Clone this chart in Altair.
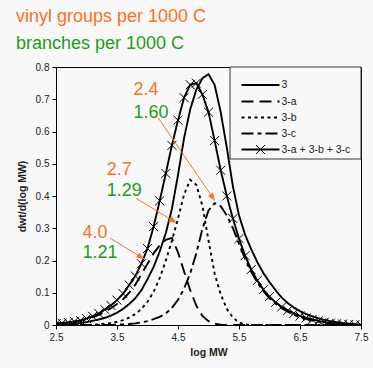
import math
import altair as alt
import pandas as pd

# ---------------- data ----------------
log_mw = [2.5, 2.6, 2.7, 2.8, 2.9, 3.0, 3.1, 3.2, 3.3, 3.4,
          3.5, 3.6, 3.7, 3.8, 3.9, 4.0, 4.1, 4.2, 4.3, 4.4,
          4.5, 4.6, 4.7, 4.8, 4.9, 5.0, 5.1, 5.2, 5.3, 5.4,
          5.5, 5.6, 5.7, 5.8, 5.9, 6.0, 6.1, 6.2, 6.3, 6.4,
          6.5, 6.6, 6.7, 6.8, 6.9, 7.0, 7.1, 7.2, 7.3, 7.4, 7.5]

curve_3 = [0.000, 0.001, 0.002, 0.004, 0.006, 0.009, 0.013, 0.017, 0.022, 0.029,
           0.038, 0.050, 0.065, 0.083, 0.108, 0.142, 0.180, 0.228, 0.285, 0.360,
           0.465, 0.580, 0.668, 0.730, 0.765, 0.778, 0.745, 0.660, 0.550, 0.430,
           0.340, 0.280, 0.235, 0.195, 0.161, 0.133, 0.108, 0.085, 0.068, 0.054,
           0.043, 0.034, 0.027, 0.021, 0.016, 0.012, 0.009, 0.006, 0.004, 0.002, 0.001]

curve_3a = [0.004, 0.006, 0.008, 0.010, 0.013, 0.018, 0.024, 0.031, 0.041, 0.052,
            0.065, 0.080, 0.100, 0.125, 0.157, 0.190, 0.222, 0.247, 0.264, 0.270,
            0.225, 0.166, 0.108, 0.060, 0.028, 0.012, 0.004, 0.001, 0.000, 0.000,
            0.000, 0.000, 0.000, 0.000, 0.000, 0.000, 0.000, 0.000, 0.000, 0.000,
            0.000, 0.000, 0.000, 0.000, 0.000, 0.000, 0.000, 0.000, 0.000, 0.000, 0.000]

curve_3b = [0.000, 0.000, 0.000, 0.000, 0.000, 0.000, 0.001, 0.002, 0.004, 0.006,
            0.010, 0.015, 0.023, 0.034, 0.050, 0.072, 0.103, 0.145, 0.200, 0.262,
            0.330, 0.405, 0.450, 0.435, 0.370, 0.262, 0.160, 0.095, 0.050, 0.023,
            0.008, 0.002, 0.000, 0.000, 0.000, 0.000, 0.000, 0.000, 0.000, 0.000,
            0.000, 0.000, 0.000, 0.000, 0.000, 0.000, 0.000, 0.000, 0.000, 0.000, 0.000]

curve_3c = [0.000, 0.000, 0.000, 0.000, 0.000, 0.000, 0.000, 0.000, 0.000, 0.000,
            0.001, 0.002, 0.003, 0.005, 0.008, 0.012, 0.018, 0.025, 0.036, 0.053,
            0.078, 0.113, 0.160, 0.222, 0.298, 0.355, 0.378, 0.368, 0.340, 0.300,
            0.252, 0.205, 0.165, 0.132, 0.105, 0.083, 0.066, 0.052, 0.041, 0.032,
            0.025, 0.019, 0.014, 0.010, 0.007, 0.005, 0.003, 0.002, 0.001, 0.000, 0.000]

curve_sum = [0.004, 0.006, 0.008, 0.011, 0.014, 0.020, 0.027, 0.036, 0.048, 0.061,
             0.077, 0.097, 0.124, 0.152, 0.190, 0.237, 0.305, 0.385, 0.470, 0.557,
             0.635, 0.705, 0.745, 0.750, 0.715, 0.660, 0.572, 0.480, 0.400, 0.330,
             0.268, 0.215, 0.172, 0.138, 0.110, 0.088, 0.070, 0.056, 0.045, 0.036,
             0.028, 0.022, 0.017, 0.013, 0.009, 0.006, 0.004, 0.003, 0.002, 0.001, 0.000]

series_names = ["3", "3-a", "3-b", "3-c", "3-a + 3-b + 3-c"]
title_lines = ["vinyl groups per 1000 C", "branches per 1000 C"]

vinyl_labels = ["2.4", "2.7", "4.0"]
branch_labels = ["1.60", "1.29", "1.21"]
label_x = [3.77, 3.33, 2.935]
vinyl_y = [0.714, 0.466, 0.270]
branch_y = [0.643, 0.401, 0.208]
arrow_x = [4.177, 3.811, 3.390]
arrow_y = [0.642, 0.393, 0.269]
arrow_x2 = [5.107, 4.479, 3.950]
arrow_y2 = [0.385, 0.316, 0.204]

# ---------------- styling ----------------
W, H = 305, 258
XMIN, XMAX, YMIN, YMAX = 2.5, 7.5, 0.0, 0.8
ORANGE = "#FF7020"
GREEN = "#1A9E1A"
BG = "#f8f8f8"
FONT = "Liberation Sans"
dashes = {"3": [1, 0], "3-a": [12, 6], "3-b": [3, 3.5], "3-c": [12, 4, 4, 4],
          "3-a + 3-b + 3-c": [1, 0]}
curves = {"3": curve_3, "3-a": curve_3a, "3-b": curve_3b, "3-c": curve_3c,
          "3-a + 3-b + 3-c": curve_sum}

xs = alt.Scale(domain=[XMIN, XMAX], nice=False, zero=False)
ys = alt.Scale(domain=[YMIN, YMAX], nice=False, zero=False)

x_axis = alt.Axis(values=[2.5, 3.5, 4.5, 5.5, 6.5, 7.5], format=".1f", title="log MW",
                  grid=False, tickSize=4, labelPadding=3, titlePadding=5,
                  labelFlush=False, labelOverlap=False)
y_axis = alt.Axis(values=[0, 0.1, 0.2, 0.3, 0.4, 0.5, 0.6, 0.7, 0.8],
                  labelExpr="datum.value == 0 ? '0' : format(datum.value, '.1f')",
                  title="dwt/d(log MW)", grid=False, tickSize=4, labelPadding=3,
                  titlePadding=8, labelFlush=False, labelOverlap=False)


def X(field):
    return alt.X(field, type="quantitative", scale=xs, axis=x_axis)


def Y(field):
    return alt.Y(field, type="quantitative", scale=ys, axis=y_axis)


layers = []
for name in series_names:
    df = pd.DataFrame({"x": log_mw, "y": curves[name]})
    layers.append(
        alt.Chart(df).mark_line(color="black", strokeWidth=1.9, strokeDash=dashes[name],
                                clip=True).encode(x=X("x"), y=Y("y"))
    )

cross_path = "M-1,-1L1,1M-1,1L1,-1"
sum_df = pd.DataFrame({"x": log_mw, "y": curve_sum})
layers.append(
    alt.Chart(sum_df).mark_point(shape=cross_path, size=80, filled=False, color="black",
                                 strokeWidth=1, opacity=1, clip=True)
    .encode(x=X("x"), y=Y("y"))
)

# annotations: arrows
px_x = W / (XMAX - XMIN)
px_y = H / (YMAX - YMIN)
arrow_rows = []
for x1, y1, x2, y2 in zip(arrow_x, arrow_y, arrow_x2, arrow_y2):
    dxp = (x2 - x1) * px_x
    dyp = -(y2 - y1) * px_y
    L = math.hypot(dxp, dyp)
    ux, uy = dxp / L, dyp / L
    ang = math.degrees(math.atan2(ux, -uy)) % 360
    hx = x2 - 4 * ux / px_x
    hy = y2 + 4 * uy / px_y
    lx2 = x2 - 6 * ux / px_x
    ly2 = y2 + 6 * uy / px_y
    arrow_rows.append({"x": x1, "y": y1, "x2": lx2, "y2": ly2, "hx": hx, "hy": hy, "angle": ang})
arrow_df = pd.DataFrame(arrow_rows)

layers.append(
    alt.Chart(arrow_df).mark_rule(color=ORANGE, strokeWidth=1)
    .encode(x=X("x"), y=Y("y"), x2="x2:Q", y2="y2:Q")
)
layers.append(
    alt.Chart(arrow_df).mark_point(shape="M0,-1L0.75,1L-0.75,1Z", size=64, filled=True,
                                   color=ORANGE, opacity=1)
    .encode(x=X("hx"), y=Y("hy"), angle=alt.Angle("angle:Q", scale=None))
)

vinyl_df = pd.DataFrame({"x": label_x, "y": vinyl_y, "t": vinyl_labels})
branch_df = pd.DataFrame({"x": label_x, "y": branch_y, "t": branch_labels})
for d, col in ((vinyl_df, ORANGE), (branch_df, GREEN)):
    layers.append(
        alt.Chart(d).mark_text(align="left", baseline="alphabetic", font=FONT,
                               fontSize=18, color=col)
        .encode(x=X("x"), y=Y("y"), text="t:N")
    )

# legend box (manual, pixel layout)
one = pd.DataFrame({"k": [0]})
layers.append(
    alt.Chart(one).mark_rect(fill=BG, stroke="#333333", strokeWidth=1)
    .encode(x=alt.value(174), x2=alt.value(W), y=alt.value(0), y2=alt.value(92))
)
rows_y = [18, 34.5, 50.5, 66.5, 82.5]
for name, ry in zip(series_names, rows_y):
    layers.append(
        alt.Chart(one).mark_rule(color="black", strokeWidth=1.9, strokeDash=dashes[name])
        .encode(x=alt.value(185.5), x2=alt.value(223.5), y=alt.value(ry))
    )
    layers.append(
        alt.Chart(pd.DataFrame({"t": [name]})).mark_text(
            align="left", baseline="middle", font=FONT, fontSize=10.5, color="#222222")
        .encode(x=alt.value(225.5), y=alt.value(ry), text="t:N")
    )
layers.append(
    alt.Chart(one).mark_point(shape=cross_path, size=80, filled=False, color="black",
                              strokeWidth=1, opacity=1)
    .encode(x=alt.value(204.5), y=alt.value(rows_y[-1]))
)

# title lines above the plot
layers.append(
    alt.Chart(pd.DataFrame({"t": [title_lines[0]]})).mark_text(
        align="left", baseline="alphabetic", font=FONT, fontSize=18, color=ORANGE)
    .encode(x=alt.value(-40), y=alt.value(-45), text="t:N")
)
layers.append(
    alt.Chart(pd.DataFrame({"t": [title_lines[1]]})).mark_text(
        align="left", baseline="alphabetic", font=FONT, fontSize=18, color=GREEN)
    .encode(x=alt.value(-40), y=alt.value(-18), text="t:N")
)

chart = (
    alt.layer(*layers)
    .properties(width=W, height=H,
                autosize=alt.AutoSizeParams(type="none"),
                padding={"left": 56, "top": 67, "right": 12, "bottom": 43},
                background=BG)
    .configure_axis(labelFont=FONT, labelFontSize=10, labelColor="#222222",
                    titleFont=FONT, titleFontSize=10.5, titleFontWeight="bold",
                    titleColor="#222222", domainColor="black", tickColor="black",
                    domainWidth=1, tickWidth=1)
    .configure_view(stroke="black", strokeWidth=1)
)

chart.save("out.html", embed_options={"renderer": "svg", "actions": False})
